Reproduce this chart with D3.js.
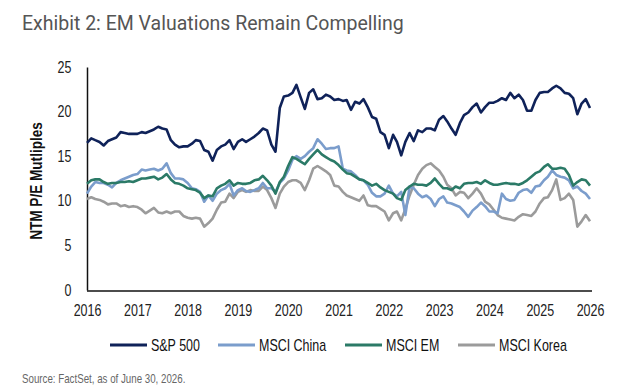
<!DOCTYPE html>
<html>
<head>
<meta charset="utf-8">
<script src="https://cdn.jsdelivr.net/npm/d3@7"></script>
<style>
  body { margin: 0; background: #fff; }
  svg text.narrow { font-family: "Liberation Sans", Arial, sans-serif; }
</style>
</head>
<body>
<div id="chart"></div>
<script>
// monthly NTM P/E, starting Jan 2016
const startDate = new Date(2016, 0, 1);

const sp500 = [16.5, 17.0, 16.8, 16.6, 16.2, 16.7, 16.9, 17.1, 17.7, 17.6, 17.5, 17.5,
  17.5, 17.7, 17.6, 17.8, 18.0, 18.3, 18.1, 18.0, 16.8, 16.3, 16.0, 16.1,
  16.1, 16.4, 16.8, 16.7, 15.7, 15.5, 14.5, 15.7, 16.1, 16.3, 16.8, 15.8,
  16.6, 16.9, 16.6, 16.9, 17.2, 17.6, 18.1, 17.9, 16.3, 15.5, 20.4, 21.7,
  21.8, 22.1, 23.0, 21.6, 20.3, 22.1, 22.5, 21.4, 21.5, 21.9, 21.7, 21.3,
  21.4, 21.2, 21.3, 20.2, 21.1, 20.9, 21.4, 20.5, 19.4, 19.2, 17.7, 17.4,
  15.9, 17.4, 16.6, 15.1, 16.6, 17.6, 16.7, 17.9, 17.7, 18.1, 18.1, 17.9,
  19.1, 19.5, 18.9, 18.1, 17.4, 18.7, 19.6, 19.9, 20.5, 20.9, 19.9, 20.5,
  21.0, 21.0, 21.2, 21.5, 21.3, 22.1, 21.5, 21.9, 21.3, 20.1, 20.1, 21.3,
  22.1, 22.2, 22.2, 22.6, 22.9, 22.6, 22.1, 22.0, 21.5, 19.7, 20.9, 21.4,
  20.4];

const msciChina = [10.8, 11.6, 12.1, 12.0, 12.0, 11.8, 11.5, 12.0, 12.3, 12.5, 12.7, 12.9,
  13.0, 13.5, 13.4, 13.5, 13.6, 13.4, 13.6, 14.2, 13.1, 12.5, 12.5, 12.4,
  12.0, 11.4, 11.3, 11.0, 9.9, 10.6, 10.0, 10.8, 11.2, 11.4, 11.9, 10.6,
  11.2, 11.4, 11.1, 11.0, 11.2, 11.4, 12.0, 11.4, 11.4, 11.0, 12.0, 12.5,
  13.4, 14.6, 15.0, 14.7, 15.0, 15.5, 15.9, 16.9, 16.4, 15.8, 15.9, 15.9,
  16.1, 13.6, 13.4, 13.3, 12.9, 12.4, 12.3, 11.8, 10.9, 10.5, 10.5, 10.8,
  11.7, 10.8, 10.5, 11.0, 8.4, 11.6, 11.4, 10.8, 10.4, 10.6, 10.2, 9.4,
  10.2, 10.5, 9.8, 9.7, 9.5, 9.3, 8.8, 8.2, 8.9, 9.3, 9.8, 9.4,
  8.8, 8.8, 8.6, 10.8, 10.2, 10.0, 10.1, 10.9, 11.2, 11.3, 10.9, 11.6,
  11.7, 12.3, 12.7, 13.4, 12.9, 12.7, 12.6, 12.3, 11.4, 11.6, 11.1, 10.8,
  10.2];

const msciEM = [11.9, 12.3, 12.4, 12.4, 12.1, 11.9, 12.0, 12.0, 12.1, 12.1, 12.2, 12.1,
  12.3, 12.5, 12.5, 12.6, 12.7, 12.4, 12.6, 13.0, 12.4, 12.0, 11.9, 11.7,
  11.4, 11.3, 11.2, 10.9, 10.3, 10.6, 10.5, 11.4, 11.7, 11.9, 12.3, 11.7,
  12.0, 11.9, 11.9, 12.0, 12.3, 12.4, 12.8, 12.3, 11.7, 10.8, 12.1, 12.7,
  13.9, 14.9, 14.7, 14.4, 14.1, 14.7, 15.2, 15.7, 15.2, 14.9, 14.6, 14.4,
  14.0, 13.5, 13.1, 13.0, 12.7, 12.4, 12.3, 12.0, 11.7, 11.9, 11.5, 11.2,
  11.0, 10.8, 10.3, 10.1, 11.2, 11.6, 11.9, 11.8, 11.8, 11.7, 12.0, 12.5,
  11.9, 11.4, 11.4, 11.2, 11.6, 11.4, 11.9, 12.0, 12.0, 12.1, 11.9, 12.3,
  12.0, 11.8, 11.8, 11.9, 12.0, 11.9, 11.9, 11.8, 12.0, 12.3, 12.7, 13.1,
  13.3, 13.8, 14.1, 13.6, 13.6, 13.7, 13.6, 12.9, 11.7, 12.1, 12.4, 12.3,
  11.7];

const msciKorea = [10.2, 10.4, 10.2, 10.1, 9.9, 9.6, 9.7, 9.7, 9.4, 9.5, 9.3, 9.4,
  9.3, 9.0, 8.6, 8.9, 9.2, 8.7, 8.6, 8.8, 8.6, 8.8, 8.8, 8.3,
  8.1, 8.0, 8.1, 8.0, 7.1, 7.5, 8.0, 9.0, 9.8, 9.9, 10.8, 10.3,
  11.0, 11.2, 11.0, 11.2, 11.1, 11.1, 11.6, 11.2, 10.3, 9.2, 10.8, 11.6,
  12.1, 12.3, 12.3, 12.0, 11.2, 12.3, 13.6, 13.9, 13.6, 13.3, 12.9, 11.7,
  11.6, 11.0, 10.6, 10.4, 10.2, 10.0, 10.6, 9.5, 9.4, 9.4, 9.1, 8.8,
  7.8, 8.6, 8.8, 7.8, 9.1, 10.6, 11.8, 12.9, 13.6, 14.0, 14.2, 13.8,
  13.4, 12.7, 11.8, 11.4, 10.6, 11.0, 10.9, 10.3, 10.8, 11.4, 10.8, 9.9,
  9.6, 9.0, 8.4, 8.1, 8.0, 7.9, 7.8, 8.2, 8.5, 8.4, 8.3, 8.8,
  9.7, 10.3, 10.4, 11.2, 12.4, 10.1, 10.3, 10.8, 10.1, 7.1, 7.7, 8.4,
  7.7];

const seriesNames = ["S&P 500", "MSCI China", "MSCI EM", "MSCI Korea"];
const seriesColors = ["#0f2259", "#7b9dcc", "#2b7a67", "#9b9b9b"];
const yTicks = [0, 5, 10, 15, 20, 25];
const xTickYears = d3.range(2016, 2027);

const series = [sp500, msciChina, msciEM, msciKorea].map((vals, i) => ({
  name: seriesNames[i],
  color: seriesColors[i],
  values: vals.map((v, m) => ({ date: d3.timeMonth.offset(startDate, m), value: v }))
}));

// no condensed face installed, so squeeze Liberation Sans horizontally
const squeeze = "scale(0.78,1)";

const width = 640, height = 390;
const svg = d3.select("#chart").append("svg")
  .attr("width", width)
  .attr("height", height);

// title
svg.append("text")
  .attr("x", 22)
  .attr("y", 30)
  .style("font-family", "Roboto, sans-serif")
  .style("font-size", "19.5px")
  .style("fill", "#555")
  .text("Exhibit 2: EM Valuations Remain Compelling");

var x = d3.scaleTime()
  .domain([new Date(2016, 0, 1), new Date(2026, 0, 1)])
  .range([87, 590]);

var y = d3.scaleLinear()
  .domain([0, 25])
  .range([290, 67]);

// y axis
var yAxis = svg.append("g")
  .attr("transform", "translate(87,0)")
  .call(d3.axisLeft(y).tickValues(yTicks).tickSize(0).tickPadding(20));
yAxis.select(".domain").attr("stroke", "#111").attr("stroke-width", 1.5);
yAxis.selectAll("text")
  .attr("class", "narrow")
  .attr("transform", squeeze)
  .style("font-size", "16px")
  .style("fill", "#222");

// x axis
var xAxis = svg.append("g")
  .attr("transform", "translate(0,291)")
  .call(d3.axisBottom(x).tickValues(xTickYears.map(yr => new Date(yr, 0, 1)))
    .tickFormat(d3.timeFormat("%Y")).tickSize(0).tickPadding(14));
xAxis.select(".domain").attr("stroke", "#111").attr("stroke-width", 1.5)
  .attr("d", "M87,0H592");
xAxis.selectAll("text")
  .attr("class", "narrow")
  .attr("transform", squeeze)
  .style("font-size", "16px")
  .style("fill", "#222");

// y axis title
svg.append("text")
  .attr("class", "narrow")
  .attr("transform", "translate(42,181) rotate(-90) scale(0.8,1)")
  .style("text-anchor", "middle")
  .style("font-size", "17px")
  .style("font-weight", "bold")
  .style("fill", "#111")
  .text("NTM P/E Mutliples");

// lines, drawn back to front
var line = d3.line()
  .x(d => x(d.date))
  .y(d => y(d.value));

[3, 1, 2, 0].forEach(i => {
  svg.append("path")
    .datum(series[i].values)
    .attr("fill", "none")
    .attr("stroke", series[i].color)
    .attr("stroke-width", 2.6)
    .attr("stroke-linejoin", "round")
    .attr("d", line);
});

// legend
var legendX = [110, 218, 345, 458];
var legend = svg.append("g").attr("transform", "translate(0,345)");
series.forEach((s, i) => {
  legend.append("line")
    .attr("x1", legendX[i]).attr("x2", legendX[i] + 37)
    .attr("y1", 0).attr("y2", 0)
    .attr("stroke", s.color)
    .attr("stroke-width", 3);
  legend.append("text")
    .attr("class", "narrow")
    .attr("transform", `translate(${legendX[i] + 41},6) ${squeeze}`)
    .style("font-size", "16px")
    .style("fill", "#111")
    .text(s.name);
});

// source note
svg.append("text")
  .attr("class", "narrow")
  .attr("transform", `translate(22,383) ${squeeze}`)
  .style("font-size", "12.5px")
  .style("fill", "#666")
  .text("Source: FactSet, as of June 30, 2026.");
</script>
</body>
</html>
